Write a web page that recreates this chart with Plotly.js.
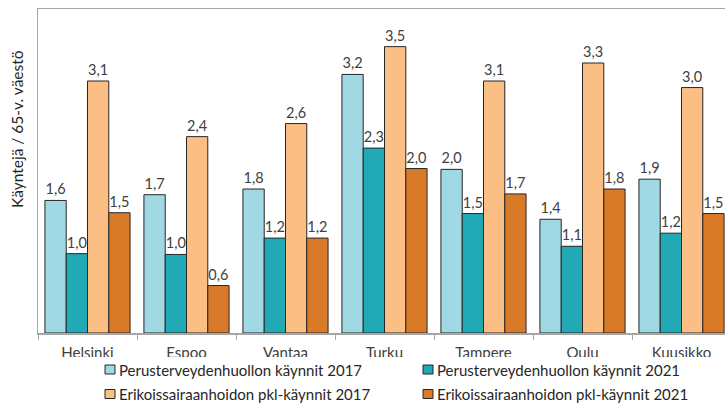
<!DOCTYPE html>
<html>
<head>
<meta charset="utf-8">
<script src="https://cdn.plot.ly/plotly-3.0.1.min.js"></script>
<style>html,body{margin:0;padding:0;background:#fff;}#chart{width:725px;height:403px;}</style>
</head>
<body>
<div id="chart"></div>
<script>
const cities = ["Helsinki", "Espoo", "Vantaa", "Turku", "Tampere", "Oulu", "Kuusikko"];
const seriesNames = [
  "Perusterveydenhuollon käynnit 2017",
  "Perusterveydenhuollon käynnit 2021",
  "Erikoissairaanhoidon pkl-käynnit 2017",
  "Erikoissairaanhoidon pkl-käynnit 2021"
];
const pth2017 = [1.62, 1.69, 1.76, 3.16, 2.00, 1.39, 1.88];
const pth2021 = [0.97, 0.96, 1.16, 2.26, 1.46, 1.06, 1.22];
const esh2017 = [3.08, 2.40, 2.56, 3.50, 3.08, 3.30, 3.00];
const esh2021 = [1.47, 0.58, 1.16, 2.01, 1.70, 1.76, 1.46];
const yTitle = "Käyntejä / 65-v. väestö";

const colors = ["#a0d9e3", "#21a9b5", "#fbbe84", "#d97a29"];
const allValues = [pth2017, pth2021, esh2017, esh2021];
const FONT = "Lato, 'Liberation Sans', sans-serif";

const W = 725, H = 403, L = 38, T = 9, B = 70, R = 0;
const plotW = W - L - R, plotH = H - T - B;
const catW = 99;

const traces = allValues.map((vals, i) => ({
  type: "bar",
  name: seriesNames[i],
  x: cities,
  y: vals,
  marker: {color: colors[i], line: {color: "#262626", width: 1}},
  texttemplate: "%{y:.1f}",
  textposition: "outside",
  cliponaxis: false,
  textfont: {family: FONT, size: 14.5, color: "#404040"},
  showlegend: false,
  hoverinfo: "x+y"
}));

function px2x(px) { return (px - L) / plotW; }
function py2y(py) { return (H - B - py) / plotH; }

const shapes = [
  {type: "rect", xref: "paper", yref: "paper", layer: "above",
   x0: -0.2, x1: 1.2, y0: py2y(H + 20), y1: py2y(357),
   fillcolor: "#ffffff", line: {width: 0}}
];
const annotations = [
  {xref: "paper", yref: "paper", x: px2x(17), y: py2y(129), text: yTitle,
   textangle: -90, showarrow: false, xanchor: "center", yanchor: "middle",
   font: {family: FONT, size: 15.5, color: "#262626"}}
];
const legendPos = [[105, 369.5], [423, 369.5], [105, 394], [423, 394]];
legendPos.forEach((p, i) => {
  shapes.push({type: "rect", xref: "paper", yref: "paper", layer: "above",
    x0: px2x(p[0]), x1: px2x(p[0] + 10), y0: py2y(p[1] + 4.5), y1: py2y(p[1] - 4.5),
    fillcolor: colors[i], line: {color: "#262626", width: 1}});
  annotations.push({xref: "paper", yref: "paper", x: px2x(p[0] + 12), y: py2y(p[1]),
    text: seriesNames[i], showarrow: false, xanchor: "left", yanchor: "middle",
    font: {family: FONT, size: 15, color: "#262626"}});
});

const layout = {
  width: W, height: H,
  margin: {l: L, r: R, t: T, b: B, pad: 0},
  paper_bgcolor: "#ffffff", plot_bgcolor: "#ffffff",
  separators: ",.",
  barmode: "group", bargap: 0.14, bargroupgap: 0,
  showlegend: false,
  font: {family: FONT, color: "#262626"},
  xaxis: {
    type: "category",
    range: [-0.5, -0.5 + plotW / catW],
    showline: true, mirror: true, linecolor: "#a6a6a6", linewidth: 1.5,
    ticks: "outside", tickson: "boundaries", ticklen: 5, tickcolor: "#a6a6a6",
    tickfont: {family: FONT, size: 15, color: "#404040"},
    ticklabelstandoff: 5,
    showgrid: false, zeroline: false, fixedrange: true
  },
  yaxis: {
    range: [0, 3.96],
    showline: true, linecolor: "#a6a6a6", linewidth: 1.5,
    showticklabels: false, ticks: "", showgrid: false, zeroline: false, fixedrange: true
  },
  shapes: shapes,
  annotations: annotations
};

Plotly.newPlot("chart", traces, layout, {displayModeBar: false, staticPlot: true});
</script>
</body>
</html>
